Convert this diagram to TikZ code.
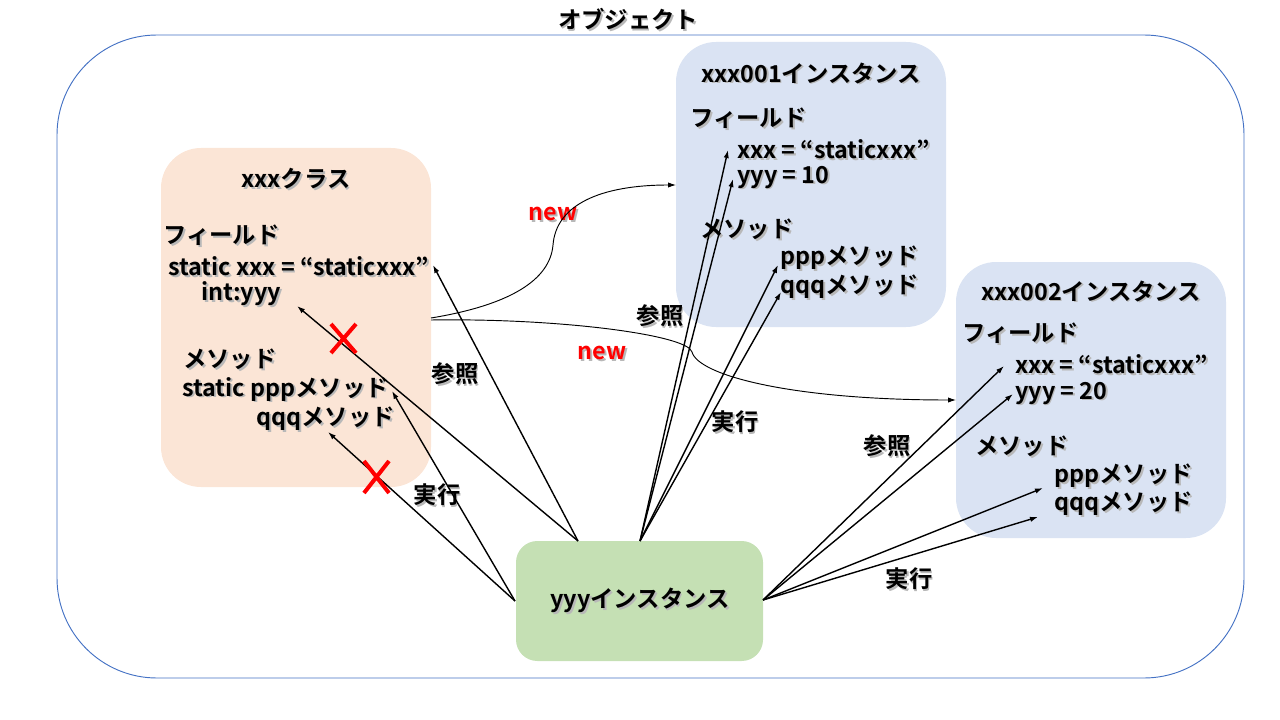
\documentclass[tikz,border=0pt]{standalone}
\usepackage{fontspec}
\setmainfont{Noto Sans CJK JP}[BoldFont={* Bold}]
\usetikzlibrary{arrows.meta}
\definecolor{peach}{HTML}{FBE5D6}
\definecolor{paleblue}{HTML}{DAE3F3}
\definecolor{palegreen}{HTML}{C5E0B4}
\definecolor{frame}{HTML}{4472C4}
% text with a soft drop shadow
\newcommand\shd[1]{\makebox[0pt][l]{\hspace{1.4pt}\raisebox{-1.4pt}{\textcolor{black!28}{#1}}}#1}
\tikzset{
  lbl/.style={inner sep=0pt, font=\bfseries\fontsize{17.5}{20}\selectfont},
  lw/.style={lbl, anchor=west},
  redlbl/.style={lbl, text=red},
  panel/.style={draw=none, rounded corners=30pt},
  ref/.style={-{Latex[length=6pt,width=4pt]}, line width=1.05pt, black},
  newarr/.style={-{Latex[length=6pt,width=4pt]}, line width=0.7pt, black},
  cross/.style={red, line width=3pt}
}
\begin{document}
\begin{tikzpicture}[x=0.75pt,y=-0.75pt]
\useasboundingbox (0,0) rectangle (1280,720);
% outer object frame
\node[lbl] (title) at (628,20) {\shd{オブジェクト}};
\draw[frame, line width=0.7pt, rounded corners=75pt] (57,35) rectangle (1244,678);

% panels
\fill[peach, panel] (161,148) rectangle (431,487);
\fill[paleblue, panel] (676,42) rectangle (946,327);
\fill[paleblue, panel] (956,262) rectangle (1226,538);
\fill[palegreen, rounded corners=16pt] (516,541) rectangle (763,661);
\node[lbl] (yyy) at (640,601) {\shd{yyyインスタンス}};

% class xxx
\node[lbl] (cls) at (296,180) {\shd{xxxクラス}};
\node[lw] (cfield) at (163,236) {\shd{フィールド}};
\node[lw] (cxxx) at (168,267) {\shd{static xxx = “staticxxx”}};
\node[lw] (cyyy) at (201,295) {\shd{int:yyy}};
\node[lw] (cmeth) at (183,360) {\shd{メソッド}};
\node[lw] (cppp) at (182,390) {\shd{static pppメソッド}};
\node[lw] (cqqq) at (256,420) {\shd{qqqメソッド}};

% instance xxx001
\node[lbl] (i1) at (811,74) {\shd{xxx001インスタンス}};
\node[lw] (i1field) at (690,119) {\shd{フィールド}};
\node[lw] (i1xxx) at (737,150) {\shd{xxx = “staticxxx”}};
\node[lw] (i1yyy) at (737,178) {\shd{yyy = 10}};
\node[lw] (i1meth) at (700,230) {\shd{メソッド}};
\node[lw] (i1ppp) at (780,259) {\shd{pppメソッド}};
\node[lw] (i1qqq) at (780,288) {\shd{qqqメソッド}};

% instance xxx002
\node[lbl] (i2) at (1091,292) {\shd{xxx002インスタンス}};
\node[lw] (i2field) at (962,334) {\shd{フィールド}};
\node[lw] (i2xxx) at (1015,365) {\shd{xxx = “staticxxx”}};
\node[lw] (i2yyy) at (1015,394) {\shd{yyy = 20}};
\node[lw] (i2meth) at (975,447) {\shd{メソッド}};
\node[lw] (i2ppp) at (1054,477) {\shd{pppメソッド}};
\node[lw] (i2qqq) at (1054,505) {\shd{qqqメソッド}};

% connector labels
\node[redlbl] (new1) at (553,215) {\shd{new}};
\node[redlbl] (new2) at (602,354) {\shd{new}};
\node[lbl] (r1) at (455,375) {\shd{参照}};
\node[lbl] (e1) at (437,496) {\shd{実行}};
\node[lbl] (r2) at (660,317) {\shd{参照}};
\node[lbl] (e2) at (735,423) {\shd{実行}};
\node[lbl] (r3) at (887,447) {\shd{参照}};
\node[lbl] (e3) at (909,580) {\shd{実行}};

% connector end points
\coordinate (cOut1) at (431,318);
\coordinate (cOut2) at (431,320);
\coordinate (i1In) at (676,185);
\coordinate (i2In) at (956,400);
\coordinate (yA) at (578,541);
\coordinate (yB) at (640,541);
\coordinate (yW) at (515,601);
\coordinate (yE) at (763,600);
\coordinate (tcx) at (433,265);
\coordinate (tcy) at (297,306);
\coordinate (tcp) at (392,391);
\coordinate (tcq) at (328,432);
\coordinate (t1x) at (728,150);
\coordinate (t1y) at (733,179);
\coordinate (t1p) at (778,265);
\coordinate (t1q) at (781,292);
\coordinate (t2x) at (1004,366);
\coordinate (t2y) at (1013,394);
\coordinate (t2p) at (1043,488);
\coordinate (t2q) at (1038,517);

% instantiation curves
\draw[newarr] (cOut1) .. controls (510,305) and (550,280) .. (553,245)
  .. controls (556,205) and (600,185) .. (i1In);
\draw[newarr] (cOut2) .. controls (560,318) and (688,335) .. (692,352)
  .. controls (698,375) and (790,400) .. (i2In);

% access from yyy to class
\draw[ref] (yA) -- (tcx);
\draw[ref] (yA) -- (tcy);
\draw[ref] (yW) -- (tcp);
\draw[ref] (yW) -- (tcq);

% access from yyy to xxx001
\draw[ref] (yB) -- (t1x);
\draw[ref] (yB) -- (t1y);
\draw[ref] (yB) -- (t1p);
\draw[ref] (yB) -- (t1q);

% access from yyy to xxx002
\draw[ref] (yE) -- (t2x);
\draw[ref] (yE) -- (t2y);
\draw[ref] (yE) -- (t2p);
\draw[ref] (yE) -- (t2q);

% forbidden accesses
\draw[cross] (331,324) -- (356,353) (356,324) -- (331,353);
\draw[cross] (364,461) -- (389,493) (389,461) -- (364,493);
\end{tikzpicture}
\end{document}
